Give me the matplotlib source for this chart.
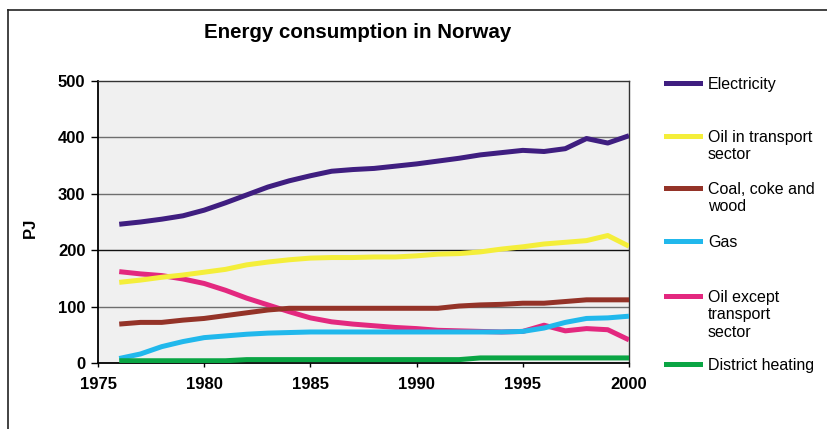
import matplotlib
matplotlib.use("Agg")
import matplotlib.pyplot as plt
from matplotlib.lines import Line2D

plt.rcParams['font.family'] = ['Liberation Sans', 'DejaVu Sans']

years = list(range(1976, 2001))

electricity = [246, 250, 255, 261, 271, 284, 298, 312, 323, 332, 340, 343, 345, 349, 353,
               358, 363, 369, 373, 377, 375, 380, 398, 390, 403]
oil_transport = [143, 147, 152, 156, 161, 166, 174, 179, 183, 186, 187, 187, 188, 188, 190,
                 193, 194, 197, 202, 206, 211, 214, 217, 226, 207]
coal = [69, 72, 72, 76, 79, 84, 89, 94, 97, 97, 97, 97, 97, 97, 97,
        97, 101, 103, 104, 106, 106, 109, 112, 112, 112]
gas = [8, 16, 29, 38, 45, 48, 51, 53, 54, 55, 55, 55, 55, 55, 55,
       55, 55, 55, 55, 56, 62, 72, 79, 80, 83]
oil_other = [162, 158, 155, 149, 141, 129, 115, 103, 91, 80, 73, 69, 66, 63, 61,
             58, 57, 56, 55, 56, 67, 57, 61, 59, 41]
district = [4, 4, 4, 4, 4, 4, 6, 6, 6, 6, 6, 6, 6, 6, 6,
            6, 6, 9, 9, 9, 9, 9, 9, 9, 9]

series = [electricity, oil_transport, coal, gas, oil_other, district]
labels = ["Electricity", "Oil in transport\nsector", "Coal, coke and\nwood", "Gas",
          "Oil except\ntransport\nsector", "District heating"]
colors = ["#3F1E80", "#F4EE3A", "#943328", "#21B8EC", "#E3287F", "#0AA544"]

x_ticks = [1975, 1980, 1985, 1990, 1995, 2000]
y_ticks = [0, 100, 200, 300, 400, 500]

W, H = 827, 429
fig = plt.figure(figsize=(W / 100, H / 100), dpi=100)
fig.patch.set_facecolor("white")

L, R, T, B = 98, 629, 81, 363
ax = fig.add_axes([L / W, 1 - B / H, (R - L) / W, (B - T) / H])
ax.set_facecolor("#F0F0F0")

for yv in y_ticks[1:-1]:
    ax.axhline(yv, color="#111111" if yv == 200 else "#6E6E6E", lw=1.0, zorder=1)

order = [4, 3, 5, 2, 1, 0]
for i in order:
    ax.plot(years, series[i], color=colors[i], lw=3.6, solid_joinstyle="round",
            solid_capstyle="butt", zorder=3)

ax.set_xlim(1975, 2000)
ax.set_ylim(0, 500)
ax.set_xticks(x_ticks)
ax.set_yticks(y_ticks)
ax.tick_params(axis="x", direction="out", length=3, width=1, pad=7, labelsize=12)
ax.tick_params(axis="y", direction="out", length=5, width=1, pad=4, labelsize=12)
for lab in ax.get_xticklabels() + ax.get_yticklabels():
    lab.set_fontweight("bold")
for s in ["left", "bottom"]:
    ax.spines[s].set_linewidth(1.3)
    ax.spines[s].set_color("black")
for s in ["top", "right"]:
    ax.spines[s].set_linewidth(1.0)
    ax.spines[s].set_color("#333333")

fig.text(358 / W, 1 - 33 / H, "Energy consumption in Norway", ha="center", va="center",
         fontsize=14.8, fontweight="bold")
fig.text(30 / W, 1 - 228 / H, "PJ", ha="center", va="center", rotation=90,
         fontsize=12, fontweight="bold")

# legend
leg_y = [83, 136, 188, 241, 296, 364]
for i, yy in enumerate(leg_y):
    fig.add_artist(Line2D([666 / W, 700 / W], [1 - yy / H, 1 - yy / H],
                          color=colors[i], lw=3.6, transform=fig.transFigure))
    fig.text(708 / W, 1 - (yy - 6) / H, labels[i], ha="left", va="top",
             fontsize=11.5, linespacing=1.2)

# outer frame
fig.add_artist(Line2D([8 / W, 1.0], [1 - 10 / H, 1 - 10 / H], color="#222222", lw=1.2,
                      transform=fig.transFigure))
fig.add_artist(Line2D([8 / W, 8 / W], [0, 1 - 10 / H], color="#222222", lw=1.2,
                      transform=fig.transFigure))

fig.savefig("out.png", dpi=100)
